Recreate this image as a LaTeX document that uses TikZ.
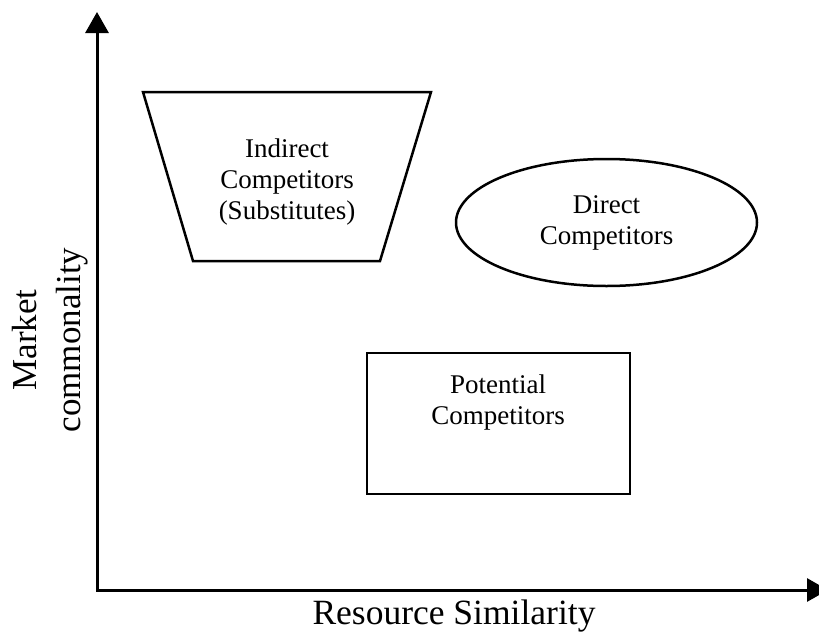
\documentclass[tikz,border=0pt]{standalone}
\usepackage{fontspec}
\setmainfont{Liberation Serif}
\usetikzlibrary{arrows.meta,shapes.geometric}
\tikzset{
  shapeline/.style={draw=black, line width=2.5pt, line join=miter},
  axisline/.style={draw=black, line width=3pt, line join=miter},
  boxtext/.style={align=center, inner sep=0pt, font=\fontsize{27}{31}\selectfont},
  axistext/.style={align=center, inner sep=0pt, font=\fontsize{35}{44}\selectfont},
}
\begin{document}
\begin{tikzpicture}[x=1pt,y=-1pt]
\clip (0,0) rectangle (819,632);
\fill[white] (0,0) rectangle (819,632);
% axes
\coordinate (origin) at (97,590);
\coordinate (ytip) at (97,12);
\coordinate (xtip) at (828,590);
\draw[axisline, {Triangle[length=21pt,width=23pt]}-{Triangle[length=21pt,width=23pt]}] (ytip) -- (origin) -- (xtip);
% trapezoid
\coordinate (tl) at (143,92);
\coordinate (tr) at (431,92);
\coordinate (br) at (380,261);
\coordinate (bl) at (193,261);
\draw[shapeline] (tl) -- (tr) -- (br) -- (bl) -- cycle;
\node[boxtext] (indirect) at (287,182) {Indirect\\Competitors\\(Substitutes)};
% ellipse
\node[shapeline, ellipse, boxtext, minimum width=301pt, minimum height=127pt] (direct) at (606.5,222.5) {Direct\\Competitors};
% rectangle
\draw[shapeline] (367,353) rectangle (630,494);
\node[boxtext] (potential) at (498,402.3) {Potential\\Competitors};
% axis labels
\node[axistext, rotate=90] (ylabel) at (50,340) {Market\\commonality};
\node[axistext, anchor=base, font=\fontsize{35.5}{44}\selectfont] (xlabel) at (454,624) {Resource Similarity};
\end{tikzpicture}
\end{document}
